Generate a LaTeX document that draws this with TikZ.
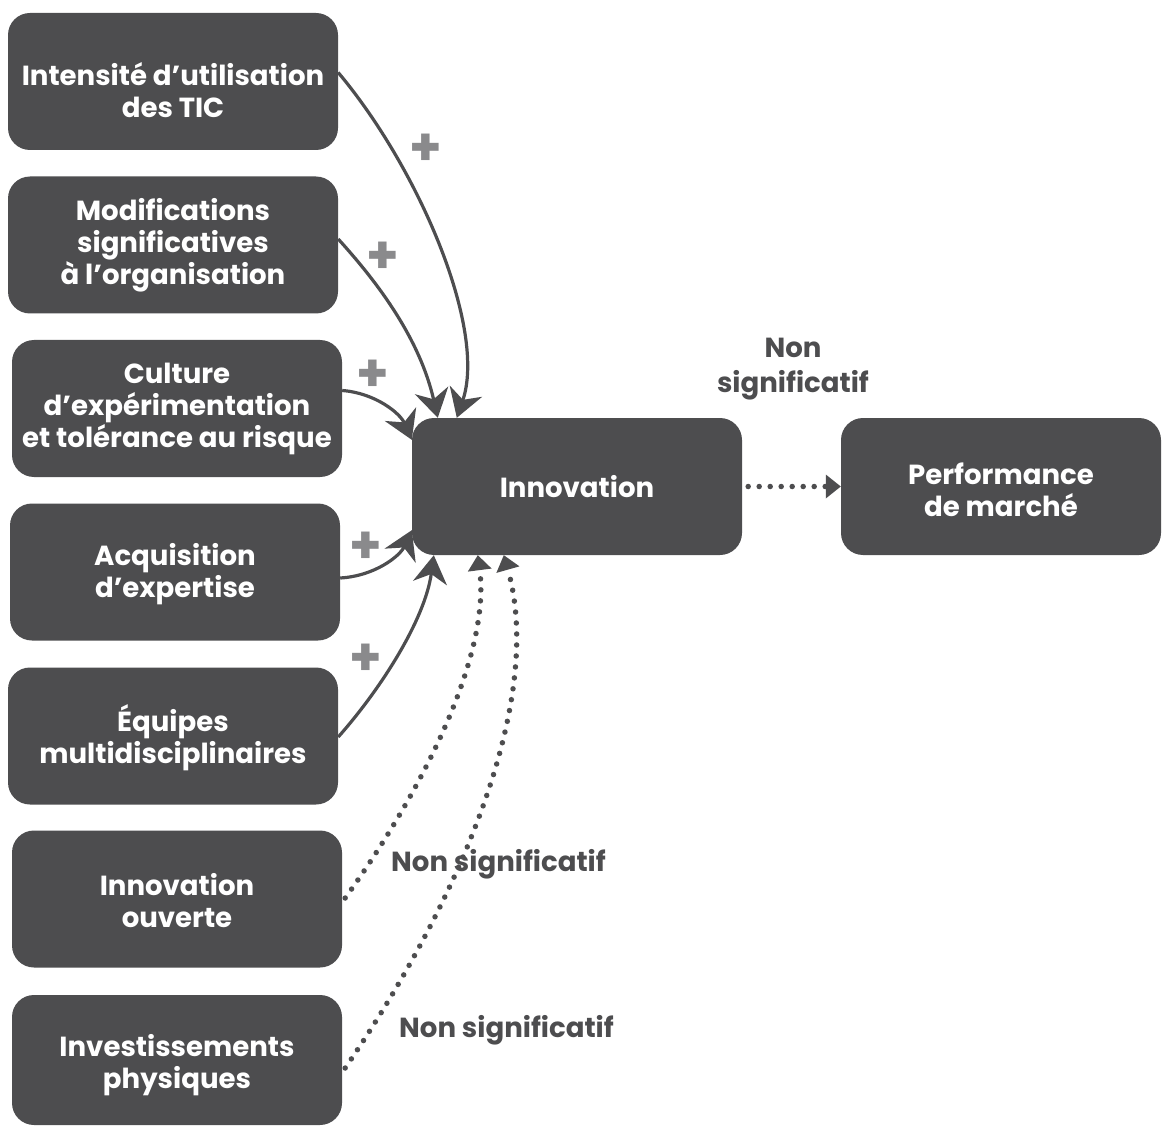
\documentclass[tikz,border=0pt]{standalone}
\usepackage{fontspec}
\setmainfont{Poppins}
\usetikzlibrary{arrows.meta,calc}
\definecolor{boxc}{HTML}{4D4D4F}
\definecolor{plusc}{HTML}{8A8A8C}
\begin{document}
\begin{tikzpicture}[x=1pt,y=-1pt,
  box/.style={fill=boxc, rounded corners=22pt, minimum width=330pt, minimum height=137pt, inner sep=0pt},
  boxtext/.style={text=white, font=\bfseries\fontsize{27.6}{32}\selectfont, align=center, inner sep=0pt},
  lbl/.style={text=boxc, font=\bfseries\fontsize{27.6}{35}\selectfont, align=center, inner sep=0pt},
  plus/.style={text=plusc, font=\bfseries\fontsize{52}{52}\selectfont, inner sep=0pt},
  conn/.style={draw=boxc, line width=3.2pt, -{Stealth[length=28pt,width=34pt,inset=9pt]}},
  dotconn/.style={draw=boxc, line width=5.5pt, line cap=round, dash pattern=on 0pt off 11pt, -{Triangle[length=15pt,width=24pt,line width=0pt, line cap=butt]}}]
\useasboundingbox (0,0) rectangle (1163,1126);
% boxes
\node[box, label={[boxtext, yshift=-9pt]center:Intensité d’utilisation\\des TIC}] (b1) at (173,81.5) {};
\node[box, label={[boxtext]center:Modifications\\significatives\\à l’organisation}] (b2) at (173,245) {};
\node[box, label={[boxtext]center:Culture\\d’expérimentation\\et tolérance au risque}] (b3) at (177,408.5) {};
\node[box, label={[boxtext, yshift=-2pt]center:Acquisition\\d’expertise}] (b4) at (175,572) {};
\node[box, label={[boxtext, yshift=-2pt]center:Équipes\\multidisciplinaires}] (b5) at (173,736) {};
\node[box, label={[boxtext, yshift=-2pt]center:Innovation\\ouverte}] (b6) at (177,899) {};
\node[box, minimum height=130pt, label={[boxtext, yshift=-5pt]center:Investissements\\physiques}] (b7) at (177,1060) {};
\node[box, label={[boxtext]center:Innovation}] (inn) at (577,486.5) {};
\node[box, minimum width=320pt, label={[boxtext, yshift=-3pt]center:Performance\\de marché}] (perf) at (1001,486.5) {};
% labels
\node[plus] (p1) at (426,150) {+};
\node[plus] (p2) at (383,258) {+};
\node[plus] (p3) at (373,376) {+};
\node[plus] (p4) at (366,548) {+};
\node[plus] (p5) at (366,660) {+};
\node[lbl] (ns0) at (793,369.5) {Non\\significatif};
\node[lbl] (ns1) at (498.5,864) {Non significatif};
\node[lbl] (ns2) at (506.5,1030) {Non significatif};
% connectors
\draw[conn] ($(b1.east)+(0,-9)$) .. controls (420,170) and (487,330) .. ($(inn.north west)+(45,0)$);
\draw[conn] ($(b2.east)+(0,-6)$) .. controls (380,285) and (420,340) .. ($(inn.north west)+(26,0)$);
\draw[conn] ($(b3.east)+(0,-18)$) .. controls (375,393) and (400,413) .. ($(inn.north west)+(0,22)$);
\draw[conn] ($(b4.east)+(0,6)$) .. controls (375,576) and (400,556) .. ($(inn.south west)+(0,-25)$);
\draw[conn] ($(b5.east)+(0,1)$) .. controls (380,690) and (425,620) .. ($(inn.south west)+(22,0)$);
\draw[dotconn] ($(b6.east)+(3,-1)$) .. controls (430,780) and (490,650) .. ($(inn.south west)+(66,0)$);
\draw[dotconn] ($(b7.east)+(3,8)$) .. controls (460,900) and (545,700) .. ($(inn.south west)+(92,0)$);
\draw[dotconn] ($(inn.east)+(6,0)$) -- (perf.west);
\end{tikzpicture}
\end{document}
